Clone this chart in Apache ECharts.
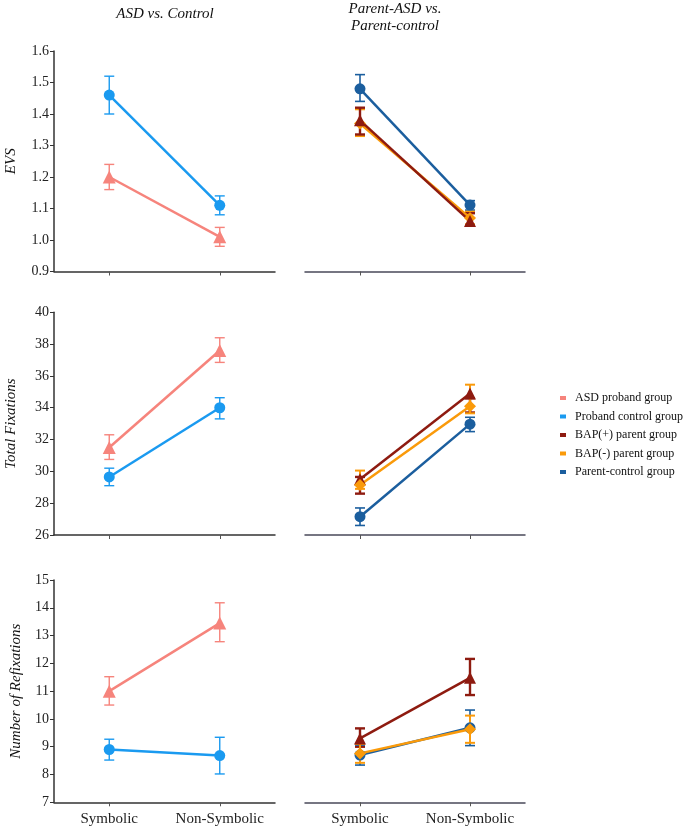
<!DOCTYPE html>
<html>
<head>
<meta charset="utf-8">
<script src="https://cdn.jsdelivr.net/npm/echarts@6/dist/echarts.min.js"></script>
<style>html,body{margin:0;padding:0;background:#fff}#c{width:685px;height:828px}</style>
</head>
<body>
<div id="c"></div>
<script>
// ---- data ----
const categories = ['Symbolic', 'Non-Symbolic'];
const seriesNames = ['ASD proband group', 'Proband control group', 'BAP(+) parent group', 'BAP(-) parent group', 'Parent-control group'];
const panelTitles = ['ASD vs. Control', 'Parent-ASD vs.\nParent-control'];
const rowTitles = ['EVS', 'Total Fixations', 'Number of Refixations'];

// EVS
const evsASD = [1.20, 1.01], evsASDLow = [1.16, 0.98], evsASDHigh = [1.24, 1.04];
const evsCtl = [1.46, 1.11], evsCtlLow = [1.40, 1.08], evsCtlHigh = [1.52, 1.14];
const evsBAPp = [1.38, 1.06], evsBAPpLow = [1.335, 1.045], evsBAPpHigh = [1.42, 1.085];
const evsBAPm = [1.37, 1.07], evsBAPmLow = [1.33, 1.05], evsBAPmHigh = [1.415, 1.09];
const evsPC = [1.48, 1.111], evsPCLow = [1.44, 1.095], evsPCHigh = [1.525, 1.125];

// Total fixations
const fixASD = [31.5, 37.6], fixASDLow = [30.75, 36.85], fixASDHigh = [32.3, 38.4];
const fixCtl = [29.65, 34.0], fixCtlLow = [29.1, 33.3], fixCtlHigh = [30.2, 34.63];
const fixBAPp = [29.5, 34.9], fixBAPpLow = [28.6, 33.7], fixBAPpHigh = [29.65, 34.6];
const fixBAPm = [29.15, 34.1], fixBAPmLow = [28.9, 33.65], fixBAPmHigh = [30.05, 35.45];
const fixPC = [27.15, 32.97], fixPCLow = [26.6, 32.5], fixPCHigh = [27.7, 33.4];

// Number of refixations
const refASD = [11.0, 13.45], refASDLow = [10.5, 12.78], refASDHigh = [11.52, 14.18];
const refCtl = [8.9, 8.68], refCtlLow = [8.52, 8.02], refCtlHigh = [9.27, 9.34];
const refBAPp = [9.3, 11.48], refBAPpLow = [9.0, 10.86], refBAPpHigh = [9.66, 12.16];
const refBAPm = [8.76, 9.63], refBAPmLow = [8.42, 9.14], refBAPmHigh = [9.1, 10.12];
const refPC = [8.7, 9.68], refPCLow = [8.34, 9.04], refPCHigh = [9.06, 10.32];

// y ranges
const yMin = [0.9, 26, 7], yMax = [1.6, 40, 15], yStep = [0.1, 2, 1];

// ---- style ----
const colors = {
  'ASD proband group': '#F6847C',
  'Proband control group': '#1A9AF0',
  'BAP(+) parent group': '#8E1B10',
  'BAP(-) parent group': '#FA9A0A',
  'Parent-control group': '#1B5E9E'
};
const symbols = {
  'ASD proband group': ['triangle', 13],
  'Proband control group': ['circle', 11],
  'BAP(+) parent group': ['triangle', 12],
  'BAP(-) parent group': ['diamond', 12],
  'Parent-control group': ['circle', 11]
};
const barWidths = {
  'ASD proband group': 1.4,
  'Proband control group': 1.4,
  'BAP(+) parent group': 2.4,
  'BAP(-) parent group': 2.0,
  'Parent-control group': 1.6
};
const FONT = 'Liberation Serif';

const gridTops = [51, 312.3, 580];
const gridBottoms = [556.5, 293, 25.7];
const colLeft = [54, 305], colRight = [410, 160];

const grids = [], xAxes = [], yAxes = [], series = [];
for (let r = 0; r < 3; r++) {
  for (let c = 0; c < 2; c++) {
    const idx = r * 2 + c;
    grids.push({ left: colLeft[c], right: colRight[c], top: gridTops[r], bottom: gridBottoms[r], containLabel: false });
    xAxes.push({
      type: 'category', gridIndex: idx, data: categories, boundaryGap: true,
      axisLine: { show: true, lineStyle: { color: c === 0 ? '#333' : '#4a4a5a', width: 1.5 } },
      axisTick: { show: true, alignWithLabel: true, length: 4, lineStyle: { color: '#555' } },
      axisLabel: { show: r === 2, interval: 0, color: '#222', fontFamily: FONT, fontSize: 15, margin: 9 },
      splitLine: { show: false }
    });
    yAxes.push({
      type: 'value', gridIndex: idx, min: yMin[r], max: yMax[r], interval: yStep[r],
      show: c === 0,
      name: c === 0 ? rowTitles[r] : '',
      nameLocation: 'middle', nameRotate: 90, nameGap: r === 2 ? 30 : 35,
      nameTextStyle: { fontFamily: FONT, fontStyle: 'italic', fontSize: 15, color: '#111' },
      axisLine: { show: true, lineStyle: { color: '#333', width: 1.5 } },
      axisTick: { show: true, length: 4, lineStyle: { color: '#333' } },
      axisLabel: {
        color: '#222', fontFamily: FONT, fontSize: 14, margin: 5,
        formatter: v => r === 0 ? v.toFixed(1) : String(Math.round(v))
      },
      splitLine: { show: false }
    });
  }
}

function addGroup(name, gridIdx, vals, low, high) {
  const col = colors[name];
  const lw = barWidths[name];
  series.push({
    type: 'custom', name: name + ' error', xAxisIndex: gridIdx, yAxisIndex: gridIdx, z: 2,
    silent: true,
    data: categories.map((cat, i) => [i, low[i], high[i]]),
    encode: { x: 0, y: [1, 2] },
    renderItem: function (params, api) {
      const x = api.value(0);
      const pLo = api.coord([x, api.value(1)]);
      const pHi = api.coord([x, api.value(2)]);
      const hw = 5;
      const st = { stroke: col, lineWidth: lw };
      return {
        type: 'group', children: [
          { type: 'line', shape: { x1: pLo[0], y1: pLo[1], x2: pHi[0], y2: pHi[1] }, style: st },
          { type: 'line', shape: { x1: pLo[0] - hw, y1: pLo[1], x2: pLo[0] + hw, y2: pLo[1] }, style: st },
          { type: 'line', shape: { x1: pHi[0] - hw, y1: pHi[1], x2: pHi[0] + hw, y2: pHi[1] }, style: st }
        ]
      };
    }
  });
  series.push({
    type: 'line', name: name, xAxisIndex: gridIdx, yAxisIndex: gridIdx, z: 3,
    data: vals,
    symbol: symbols[name][0], symbolSize: symbols[name][1],
    lineStyle: { color: col, width: 2.5 },
    itemStyle: { color: col, opacity: 1 },
    emphasis: { disabled: true },
    animation: false
  });
}

addGroup('ASD proband group', 0, evsASD, evsASDLow, evsASDHigh);
addGroup('Proband control group', 0, evsCtl, evsCtlLow, evsCtlHigh);
addGroup('Parent-control group', 1, evsPC, evsPCLow, evsPCHigh);
addGroup('BAP(-) parent group', 1, evsBAPm, evsBAPmLow, evsBAPmHigh);
addGroup('BAP(+) parent group', 1, evsBAPp, evsBAPpLow, evsBAPpHigh);

addGroup('ASD proband group', 2, fixASD, fixASDLow, fixASDHigh);
addGroup('Proband control group', 2, fixCtl, fixCtlLow, fixCtlHigh);
addGroup('Parent-control group', 3, fixPC, fixPCLow, fixPCHigh);
addGroup('BAP(+) parent group', 3, fixBAPp, fixBAPpLow, fixBAPpHigh);
addGroup('BAP(-) parent group', 3, fixBAPm, fixBAPmLow, fixBAPmHigh);

addGroup('ASD proband group', 4, refASD, refASDLow, refASDHigh);
addGroup('Proband control group', 4, refCtl, refCtlLow, refCtlHigh);
addGroup('BAP(+) parent group', 5, refBAPp, refBAPpLow, refBAPpHigh);
addGroup('Parent-control group', 5, refPC, refPCLow, refPCHigh);
addGroup('BAP(-) parent group', 5, refBAPm, refBAPmLow, refBAPmHigh);

const chart = echarts.init(document.getElementById('c'), null, { renderer: 'canvas' });
chart.setOption({
  animation: false,
  backgroundColor: '#fff',
  title: [
    { text: panelTitles[0], left: 160, top: 2, textAlign: 'center',
      textStyle: { fontFamily: FONT, fontStyle: 'italic', fontWeight: 'normal', fontSize: 15, color: '#111' } },
    { text: panelTitles[1], left: 390, top: -4, textAlign: 'center',
      textStyle: { fontFamily: FONT, fontStyle: 'italic', fontWeight: 'normal', fontSize: 15, color: '#111', lineHeight: 17 } }
  ],
  legend: {
    orient: 'vertical', left: 555, top: 386,
    data: seriesNames, icon: 'rect', itemWidth: 6, itemHeight: 4, itemGap: 4.5,
    textStyle: { fontFamily: FONT, fontSize: 12, color: '#111', padding: [0, 0, 0, 4], lineHeight: 14 },
    selectedMode: false
  },
  grid: grids, xAxis: xAxes, yAxis: yAxes, series: series
});
</script>
</body>
</html>
